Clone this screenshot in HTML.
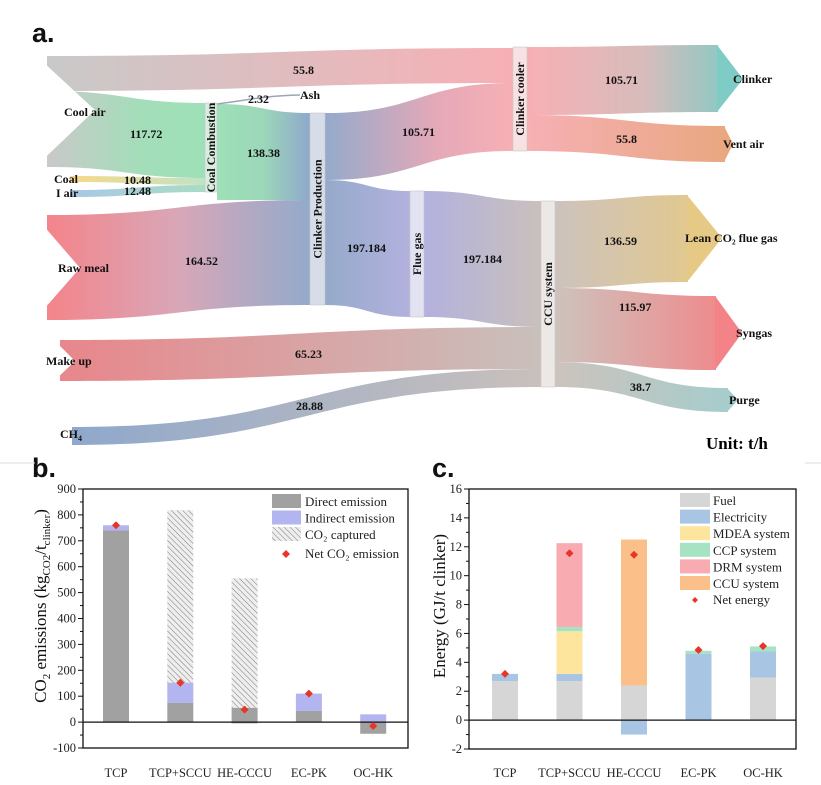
<!DOCTYPE html>
<html><head><meta charset="utf-8">
<style>
body{margin:0;background:#fff;width:821px;height:785px;overflow:hidden;font-family:"Liberation Serif",serif;}
svg{position:absolute;left:0;top:0}
.lb{font-family:"Liberation Serif",serif;font-weight:bold;font-size:12px;fill:#111}
.tk{font-family:"Liberation Serif",serif;font-size:12.5px;fill:#222}
.lg{font-family:"Liberation Serif",serif;font-size:13px;fill:#222}
.pl{font-family:"Liberation Sans",sans-serif;font-weight:bold;font-size:27px;fill:#111}
</style></head><body>
<svg width="821" height="785" viewBox="0 0 821 785">
<defs>
<linearGradient id="gTop" gradientUnits="userSpaceOnUse" x1="47" x2="513"><stop offset="0" stop-color="#c9c9c9"/><stop offset="1" stop-color="#f7b0b5"/></linearGradient>
<linearGradient id="gCool" gradientUnits="userSpaceOnUse" x1="47" x2="205"><stop offset="0" stop-color="#c9c9c9"/><stop offset="0.6" stop-color="#a3deb9"/><stop offset="1" stop-color="#9ee0b8"/></linearGradient>
<linearGradient id="gCoal" gradientUnits="userSpaceOnUse" x1="70" x2="205"><stop offset="0" stop-color="#f5d98a"/><stop offset="1" stop-color="#c2e3c4"/></linearGradient>
<linearGradient id="gIair" gradientUnits="userSpaceOnUse" x1="70" x2="205"><stop offset="0" stop-color="#a9c8e6"/><stop offset="1" stop-color="#a9dcc4"/></linearGradient>
<linearGradient id="gCC" gradientUnits="userSpaceOnUse" x1="217" x2="310"><stop offset="0" stop-color="#9ee0b8"/><stop offset="0.5" stop-color="#9bd7b9"/><stop offset="1" stop-color="#8fa8cb"/></linearGradient>
<linearGradient id="gRaw" gradientUnits="userSpaceOnUse" x1="47" x2="310"><stop offset="0" stop-color="#f4848a"/><stop offset="0.5" stop-color="#d8a7b8"/><stop offset="1" stop-color="#93aacb"/></linearGradient>
<linearGradient id="gCP1" gradientUnits="userSpaceOnUse" x1="325" x2="513"><stop offset="0" stop-color="#95aacb"/><stop offset="0.6" stop-color="#e5a9b8"/><stop offset="1" stop-color="#f7b0b5"/></linearGradient>
<linearGradient id="gCP2" gradientUnits="userSpaceOnUse" x1="325" x2="410"><stop offset="0" stop-color="#95aacb"/><stop offset="1" stop-color="#b3b1de"/></linearGradient>
<linearGradient id="gFG" gradientUnits="userSpaceOnUse" x1="424" x2="541"><stop offset="0" stop-color="#b3b1de"/><stop offset="1" stop-color="#c9c0bc"/></linearGradient>
<linearGradient id="gMU" gradientUnits="userSpaceOnUse" x1="60" x2="541"><stop offset="0" stop-color="#e8868b"/><stop offset="1" stop-color="#c9c0bc"/></linearGradient>
<linearGradient id="gCH4" gradientUnits="userSpaceOnUse" x1="72" x2="541"><stop offset="0" stop-color="#8fa8cb"/><stop offset="1" stop-color="#c9c0bc"/></linearGradient>
<linearGradient id="gClk" gradientUnits="userSpaceOnUse" x1="527" x2="740"><stop offset="0" stop-color="#f7b0b5"/><stop offset="0.55" stop-color="#d7bcbb"/><stop offset="1" stop-color="#7fcbc5"/></linearGradient>
<linearGradient id="gVent" gradientUnits="userSpaceOnUse" x1="527" x2="730"><stop offset="0" stop-color="#f7b0b5"/><stop offset="1" stop-color="#e8a77f"/></linearGradient>
<linearGradient id="gLean" gradientUnits="userSpaceOnUse" x1="555" x2="720"><stop offset="0" stop-color="#cdc3bd"/><stop offset="1" stop-color="#e6c985"/></linearGradient>
<linearGradient id="gSyn" gradientUnits="userSpaceOnUse" x1="555" x2="740"><stop offset="0" stop-color="#cdc3bd"/><stop offset="1" stop-color="#f38386"/></linearGradient>
<linearGradient id="gPur" gradientUnits="userSpaceOnUse" x1="555" x2="735"><stop offset="0" stop-color="#cdc3bd"/><stop offset="1" stop-color="#a4cdcc"/></linearGradient>
<pattern id="hatch" patternUnits="userSpaceOnUse" width="4" height="4" patternTransform="rotate(-45)"><rect width="4" height="4" fill="#eeeeee"/><line x1="0" y1="0" x2="0" y2="4" stroke="#7a7a7a" stroke-width="1"/></pattern>
</defs>

<text class="pl" x="32" y="42">a.</text>
<text class="pl" x="32" y="477">b.</text>
<text class="pl" x="432" y="477">c.</text>
<line x1="0" y1="463" x2="35" y2="463" stroke="#ddd"/>
<line x1="805" y1="463" x2="821" y2="463" stroke="#ddd"/>

<g id="sankey"></g>
<g id="chartB"></g>
<g id="chartC"></g>
</svg>
<script>
const NS='http://www.w3.org/2000/svg';
function mk(parent,tag,attrs,txt){const e=document.createElementNS(NS,tag);for(const k in attrs)e.setAttribute(k,attrs[k]);if(txt!==undefined)e.textContent=txt;parent.appendChild(e);return e;}
function band(x0,t0,b0,x1,t1,b1){const m=(x0+x1)/2;return `M${x0},${t0} C${m},${t0} ${m},${t1} ${x1},${t1} L${x1},${b1} C${m},${b1} ${m},${b0} ${x0},${b0} Z`;}

/* ---------- Sankey ---------- */
const S=document.getElementById('sankey');
const flowNames=['cool-air-to-cooler','cool-air-to-combustion','coal-flow','i-air-flow','combustion-to-production','raw-meal-flow','production-to-cooler','production-to-flue-gas','flue-gas-to-ccu','make-up-flow','ch4-flow','clinker-flow','vent-air-flow','lean-co2-flow','syngas-flow','purge-flow'];
const flowGeo=[[47,56,91,513,48,83,'gTop'],[47,91,167,205,103,178,'gCool'],[70,176,182,205,178,185,'gCoal'],[70,190,197,205,185,192,'gIair'],[217,104,200,310,113,200,'gCC'],[47,215,320,310,200,305,'gRaw'],[325,113,180,513,83,151,'gCP1'],[325,180,305,410,191,317,'gCP2'],[424,191,317,541,201,327,'gFG'],[60,340,381,541,327,369,'gMU'],[72,427,445,541,369,387,'gCH4'],[527,47,115,718,45,112,'gClk'],[527,115,151,725,126,162,'gVent'],[555,201,288,688,195,282,'gLean'],[555,288,362,716,296,370,'gSyn'],[555,362,387,728,388,412,'gPur']];
flowGeo.forEach((g,i)=>{const p=mk(S,'path',{d:band(g[0],g[1],g[2],g[3],g[4],g[5]),fill:'url(#'+g[6]+')'});

});
[[ '30,50 95,110 30,172'],['30,210 80,268 30,325'],['50,336 75,361 50,385']].forEach(n=>mk(S,'polygon',{points:n[0],fill:'#fff'}));
mk(S,'polygon',{points:'717,45 743,79 717,112',fill:'#7fcbc5',});
mk(S,'polygon',{points:'724,126 733,144 724,162',fill:'#e8a77f',});
mk(S,'polygon',{points:'687,195 722,238 687,282',fill:'#e6c985',});
mk(S,'polygon',{points:'715,296 742,333 715,370',fill:'#f38386',});
mk(S,'polygon',{points:'727,388 738,400 727,412',fill:'#a4cdcc',});
mk(S,'path',{d:'M217,104 C250,100 260,96 300,95',stroke:'#9aa6b8','stroke-width':'1.5',fill:'none',});
const nodes=[['coal-combustion-node',205,103,12,89,'#d8ece0','Coal Combustion'],['clinker-production-node',310,113,15,192,'#d6dde8','Clinker Production'],['clinker-cooler-node',513,47,14,104,'#f7e1e2','Clinker cooler'],['flue-gas-node',410,191,14,126,'#e2e2f2','Flue gas'],['ccu-system-node',541,201,14,186,'#ece8e6','CCU system']];
nodes.forEach(n=>{const r=mk(S,'rect',{x:n[1],y:n[2],width:n[3],height:n[4],fill:n[5],stroke:'#c8c8c8','stroke-width':'0.6'});


const cx=n[1]+n[3]/2+4,cy=n[2]+n[4]/2;
mk(S,'text',{class:'lb',x:cx,y:cy,'text-anchor':'middle',transform:`rotate(-90 ${cx} ${cy})`},n[6]);});
const labs=[[64,116,'Cool air'],[130,138,'117.72'],[54,183,'Coal'],[124,184,'10.48'],[56,197,'I air'],[124,195,'12.48'],[58,272,'Raw meal'],[185,265,'164.52'],[46,365,'Make up'],[295,358,'65.23'],[296,410,'28.88'],[293,74,'55.8'],[248,103,'2.32'],[300,99,'Ash'],[247,157,'138.38'],[402,136,'105.71'],[347,252,'197.184'],[463,263,'197.184'],[605,84,'105.71'],[616,143,'55.8'],[733,83,'Clinker'],[723,148,'Vent air'],[604,245,'136.59'],[685,242,'Lean CO₂ flue gas'],[619,311,'115.97'],[736,337,'Syngas'],[630,391,'38.7'],[729,404,'Purge']];
labs.forEach(l=>mk(S,'text',{class:'lb',x:l[0],y:l[1]},l[2]));
const ch4=mk(S,'text',{class:'lb',x:60,y:438});ch4.innerHTML='CH<tspan font-size="8" dy="3">4</tspan>';
mk(S,'text',{x:706,y:449,'font-family':'Liberation Serif,serif','font-weight':'bold','font-size':'17',},'Unit: t/h');

/* ---------- Chart b ---------- */
const catsB=['TCP','TCP+SCCU','HE-CCCU','EC-PK','OC-HK'];
const directB=[740,75,55,43,-45];
const directNegB=[0,0,-5,0,0];
const indirectB=[20,77,0,67,30];
const capturedTopB=[0,818,555,0,0];
const netB=[760,152,48,110,-15];
const ticksB=[-100,0,100,200,300,400,500,600,700,800,900];

/* ---------- Chart c ---------- */
const catsC=['TCP','TCP+SCCU','HE-CCCU','EC-PK','OC-HK'];
const fuelC=[2.7,2.7,2.4,0,2.95];
const elecC=[0.5,0.5,-1.0,4.6,1.8];
const mdeaC=[0,2.95,0,0,0];
const ccpC=[0,0.3,0,0.2,0.35];
const drmC=[0,5.8,0,0,0];
const ccuC=[0,0,10.1,0,0];
const netC=[3.2,11.55,11.45,4.85,5.12];
const ticksC=[-2,0,2,4,6,8,10,12,14,16];

function axes(G,L,R,T,B,y,ticks,minorStep,name){
  mk(G,'rect',{x:L,y:T,width:R-L,height:B-T,fill:'none',stroke:'#111','stroke-width':'1.3',});
  ticks.forEach(t=>{mk(G,'line',{x1:L-5,x2:L,y1:y(t),y2:y(t),stroke:'#111'});
    const tx=mk(G,'text',{class:'tk',x:L-7,y:y(t)+4,'text-anchor':'end'},String(t));
    
    });
  for(let v=ticks[0];v<ticks[ticks.length-1];v+=minorStep){mk(G,'line',{x1:L-3,x2:L,y1:y(v+minorStep/2),y2:y(v+minorStep/2),stroke:'#111'});}
  mk(G,'line',{x1:L,x2:R,y1:y(0),y2:y(0),stroke:'#111','stroke-width':'1.3',});
}
function rectV(G,x,w,y,a,b,fill,nm){const y1=y(Math.max(a,b)),y2=y(Math.min(a,b));if(y2-y1<=0)return;
 const r=mk(G,'rect',{x:x-w/2,y:y1,width:w,height:y2-y1,fill:fill});
 
 }
function diamond(G,x,yy,s,nm){const d=mk(G,'polygon',{points:`${x},${yy-s} ${x+s},${yy} ${x},${yy+s} ${x-s},${yy}`,fill:'#e8352a'});
 
 }

(function(){
 const G=document.getElementById('chartB');
 const L=83,R=408,T=489,B=748;
 const y=v=>B-(v-ticksB[0])/(ticksB[ticksB.length-1]-ticksB[0])*(B-T);
 const x=i=>116+i*64.3;const w=26;
 catsB.forEach((c,i)=>{
  if(capturedTopB[i]>0)rectV(G,x(i),w,y,directB[i]+indirectB[i],capturedTopB[i],'url(#hatch)','bar-captured-'+c);
  rectV(G,x(i),w,y,0,directB[i],'#a1a1a1','bar-direct-'+c);
  rectV(G,x(i),w,y,0,directNegB[i],'#a1a1a1','bar-direct-neg-'+c);
  const base=Math.max(0,directB[i]);
  rectV(G,x(i),w,y,base,base+indirectB[i],'#b2b5ef','bar-indirect-'+c);
  const t=mk(G,'text',{class:'tk',x:x(i),y:777,'text-anchor':'middle'},c);
  
  
 });
 axes(G,L,R,T,B,y,ticksB,100,'b');
 catsB.forEach((c,i)=>diamond(G,x(i),y(netB[i]),4,'net-co2-'+c));
 const yt=mk(G,'text',{x:0,y:0,'font-family':'Liberation Serif,serif','font-size':'17',fill:'#111','text-anchor':'middle',transform:'translate(46,606) rotate(-90)',});
 yt.innerHTML='CO<tspan font-size="11" dy="4">2</tspan><tspan dy="-4"> emissions (kg</tspan><tspan font-size="11" dy="4">CO2</tspan><tspan dy="-4">/t</tspan><tspan font-size="11" dy="4">clinker</tspan><tspan dy="-4">)</tspan>';
 const lg=[['#a1a1a1','Direct emission'],['#b2b5ef','Indirect emission'],['url(#hatch)','CO₂ captured']];
 lg.forEach((l,k)=>{const r=mk(G,'rect',{x:272,y:494+k*16.5,width:29,height:14,fill:l[0]});
  
  
  mk(G,'text',{class:'lg',x:305,y:506+k*16.5},l[1]);});
 diamond(G,286,554,4,'b-legend-net');
 mk(G,'text',{class:'lg',x:305,y:558},'Net CO₂ emission');
})();

(function(){
 const G=document.getElementById('chartC');
 const L=469,R=796,T=489,B=749;
 const y=v=>B-(v-ticksC[0])/(ticksC[ticksC.length-1]-ticksC[0])*(B-T);
 const x=i=>505+i*64.5;const w=26;
 const series=[[fuelC,'#d6d6d6','fuel'],[elecC,'#a9c5e4','electricity'],[mdeaC,'#fde59e','mdea'],[ccpC,'#a6e3c3','ccp'],[drmC,'#f8abb0','drm'],[ccuC,'#fbc08a','ccu']];
 catsC.forEach((c,i)=>{let pos=0,neg=0;
  series.forEach(s=>{const v=s[0][i];if(v>=0){rectV(G,x(i),w,y,pos,pos+v,s[1],'bar-'+s[2]+'-'+c);pos+=v;}else{rectV(G,x(i),w,y,neg,neg+v,s[1],'bar-'+s[2]+'-'+c);neg+=v;}});
  const t=mk(G,'text',{class:'tk',x:x(i),y:777,'text-anchor':'middle'},c);
  
  
 });
 axes(G,L,R,T,B,y,ticksC,2,'c');
 catsC.forEach((c,i)=>diamond(G,x(i),y(netC[i]),4,'net-energy-'+c));
 mk(G,'text',{x:0,y:0,'font-family':'Liberation Serif,serif','font-size':'17',fill:'#111','text-anchor':'middle',transform:'translate(445,606) rotate(-90)',},'Energy (GJ/t clinker)');
 const lg=[['#d6d6d6','Fuel'],['#a9c5e4','Electricity'],['#fde59e','MDEA system'],['#a6e3c3','CCP system'],['#f8abb0','DRM system'],['#fbc08a','CCU system']];
 lg.forEach((l,k)=>{const r=mk(G,'rect',{x:680,y:493+k*16.6,width:30,height:14,fill:l[0]});
  
  
  mk(G,'text',{class:'lg',x:713,y:505+k*16.6},l[1]);});
 diamond(G,695,600,3,'c-legend-net');
 mk(G,'text',{class:'lg',x:713,y:604},'Net energy');
})();
</script>
</body></html>
